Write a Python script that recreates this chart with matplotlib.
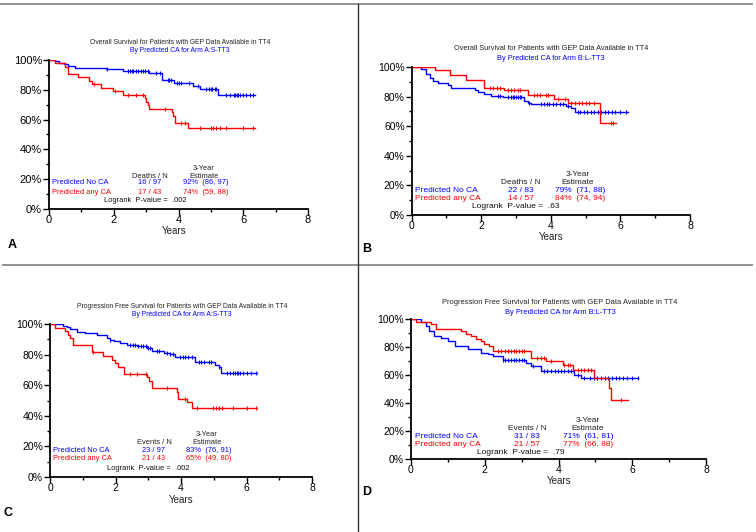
import numpy as np
import matplotlib
matplotlib.use('Agg')
import matplotlib.pyplot as plt
from matplotlib.lines import Line2D

plt.rcParams['font.family'] = ['Liberation Sans', 'DejaVu Sans']

W, H = 756, 532
BLUE = '#0000ff'
RED = '#ff0000'

# ---- panel A : overall survival, arm A
a_no_t = [0, 0.2, 0.3, 0.45, 0.6, 0.8, 1.75, 2.3, 3.1, 3.5, 3.85, 4.45, 4.65, 5.22, 6.35]
a_no_s = [100, 99, 98, 97, 96, 94.9, 93.8, 92.8, 91, 86.6, 84.6, 82.5, 80.7, 76.3, 76.3]
a_no_cens = [1.78, 2.45, 2.5, 2.55, 2.6, 2.7, 2.75, 2.85, 2.9, 2.95, 3.05, 3.32, 3.42, 3.68, 3.72,
             3.78, 3.94, 4.0, 4.09, 4.32, 4.6, 4.86, 4.95, 5.0, 5.05, 5.12, 5.17, 5.48, 5.6, 5.7,
             5.75, 5.8, 5.85, 5.9, 6.0, 6.1, 6.2, 6.3]
a_any_t = [0, 0.19, 0.49, 0.6, 0.9, 1.24, 1.32, 1.62, 1.98, 2.29, 2.96, 3.0, 3.05, 3.1, 3.81, 3.84,
           3.88, 4.3, 6.35]
a_any_s = [100, 97.7, 95.3, 90.7, 88.4, 86, 83.7, 81.4, 79, 76.7, 74.4, 72.1, 69.8, 67.4, 65, 62.5,
           58, 54.2, 54.2]
a_any_cens = [1.39, 2.04, 2.45, 2.7, 2.91, 3.58, 4.09, 4.2, 4.66, 4.99, 5.07, 5.17, 5.28, 5.48, 6.0, 6.3]

# ---- panel B : overall survival, arm B
b_no_t = [0, 0.28, 0.42, 0.52, 0.61, 0.76, 1.04, 1.14, 1.81, 1.9, 2.08, 2.29, 2.62, 3.24, 3.34,
          3.44, 4.44, 4.58, 4.68, 6.21]
b_no_s = [100, 98.8, 95.2, 92.8, 90.4, 89.2, 88, 85.5, 84.3, 83.1, 81.9, 80.7, 79.5, 77.1, 75.9,
          74.7, 73.5, 72.3, 69.9, 69.9]
b_no_cens = [2.48, 2.55, 2.76, 2.85, 2.9, 2.95, 3.0, 3.05, 3.1, 3.15, 3.38, 3.72, 3.8, 3.88, 3.95,
             4.05, 4.15, 4.25, 4.35, 4.5, 4.78, 4.85, 4.95, 5.05, 5.15, 5.25, 5.35, 5.45, 5.55,
             5.65, 5.75, 5.85, 6.0, 6.15]
b_any_t = [0, 0.66, 1.09, 1.57, 2.08, 2.65, 3.34, 4.08, 4.5, 5.4, 5.88]
b_any_s = [100, 98.2, 94.7, 91.2, 86, 84.5, 81.3, 78.5, 75.5, 62.3, 62.3]
b_any_cens = [2.24, 2.35, 2.45, 2.55, 2.76, 2.85, 2.95, 3.05, 3.1, 3.53, 3.6, 3.7, 3.85, 3.92,
              4.2, 4.4, 4.58, 4.7, 4.8, 4.9, 5.0, 5.1, 5.25, 5.73, 5.8]

# ---- panel C : progression free survival, arm A
c_no_t = [0, 0.41, 0.51, 0.61, 0.82, 1.07, 1.43, 1.73, 1.83, 1.94, 2.14, 2.34, 2.65, 2.96, 3.11,
          3.47, 3.67, 3.82, 4.43, 5.05, 5.15, 5.22, 6.32]
c_no_s = [100, 99, 98, 96.9, 94.8, 93.8, 92.8, 90.7, 89.7, 88.6, 87.6, 86.5, 85.5, 84.4, 82.3,
          81.3, 80.2, 78.2, 75, 73.3, 71.6, 68.3, 68.3]
c_no_cens = [1.83, 2.45, 2.52, 2.6, 2.7, 2.78, 2.85, 2.92, 3.0, 3.05, 3.26, 3.33, 3.57, 3.67, 3.75,
             3.97, 4.05, 4.12, 4.2, 4.33, 4.54, 4.62, 4.7, 4.85, 4.93, 5.15, 5.4, 5.5, 5.6, 5.65,
             5.7, 5.75, 5.8, 5.9, 6.0, 6.15, 6.3]
c_any_t = [0, 0.15, 0.46, 0.56, 0.61, 0.71, 1.27, 1.63, 1.89, 1.99, 2.09, 2.26, 2.96, 3.03, 3.11,
           3.87, 3.92, 4.18, 4.33, 6.32]
c_any_s = [100, 97.7, 95.3, 93, 90.7, 86, 81.4, 79.1, 76.7, 74.4, 72.1, 67.4, 65.1, 62.8, 58.1,
           55.8, 51.2, 48.8, 44.9, 44.9]
c_any_cens = [1.3, 2.45, 2.65, 2.93, 3.57, 4.13, 4.48, 4.99, 5.07, 5.15, 5.25, 5.6, 6.0, 6.3]

# ---- panel D : progression free survival, arm B
d_no_t = [0, 0.27, 0.41, 0.5, 0.63, 0.81, 0.99, 1.18, 1.54, 1.9, 2.08, 2.22, 2.49, 3.12, 3.25,
          3.53, 4.43, 4.6, 6.15]
d_no_s = [100, 97.6, 95.2, 91.6, 88, 86.7, 84.3, 80.7, 78.3, 75.9, 74.7, 73.5, 71, 68.6, 66.2,
          62.6, 60.2, 57.8, 57.8]
d_no_cens = [2.49, 2.55, 2.62, 2.7, 2.78, 2.85, 2.92, 3.0, 3.07, 3.3, 3.62, 3.7, 3.8, 3.9, 3.98,
             4.07, 4.15, 4.25, 4.34, 4.52, 4.7, 4.85, 4.95, 5.05, 5.15, 5.25, 5.35, 5.45, 5.55,
             5.65, 5.75, 5.85, 6.0, 6.15]
d_any_t = [0, 0.14, 0.54, 0.68, 1.36, 1.49, 1.63, 1.76, 1.9, 1.99, 2.12, 2.22, 3.25, 3.66, 4.11,
           4.39, 4.97, 5.38, 5.42, 5.88]
d_any_s = [100, 98.2, 96.5, 93, 91.2, 89.5, 87.7, 86, 84.2, 82.5, 80.7, 77.2, 72.5, 70, 67, 63.6,
           57.8, 51, 42.5, 42.5]
d_any_cens = [2.35, 2.45, 2.55, 2.62, 2.7, 2.78, 2.85, 2.92, 3.0, 3.07, 3.43, 3.53, 3.6, 3.8,
              4.16, 4.25, 4.3, 4.52, 4.6, 4.7, 4.8, 4.88, 5.7]

titles1 = ['Overall Survival for Patients with GEP Data Available in TT4',
           'Overall Survival for Patients with GEP Data Available in TT4',
           'Progression Free Survival for Patients with GEP Data Available in TT4',
           'Progression Free Survival for Patients with GEP Data Available in TT4']
titles2 = ['By Predicted CA for Arm A:S-TT3', 'By Predicted CA for Arm B:L-TT3',
           'By Predicted CA for Arm A:S-TT3', 'By Predicted CA for Arm B:L-TT3']
count_hdr = ['Deaths / N', 'Deaths / N', 'Events / N', 'Events / N']
n_no = ['16 / 97', '22 / 83', '23 / 97', '31 / 83']
n_any = ['17 / 43', '14 / 57', '21 / 43', '21 / 57']
est_no = ['92%  (86, 97)', '79%  (71, 88)', '83%  (76, 91)', '71%  (61, 81)']
est_any = ['74%  (59, 88)', '84%  (74, 94)', '65%  (49, 80)', '77%  (66, 88)']
pvals = ['.002', '.63', '.002', '.79']
letters = ['A', 'B', 'C', 'D']

curves = [(a_no_t, a_no_s, a_no_cens, a_any_t, a_any_s, a_any_cens),
          (b_no_t, b_no_s, b_no_cens, b_any_t, b_any_s, b_any_cens),
          (c_no_t, c_no_s, c_no_cens, c_any_t, c_any_s, c_any_cens),
          (d_no_t, d_no_s, d_no_cens, d_any_t, d_any_s, d_any_cens)]

# layout in pixels: axes (x0, x8, y100, y0), title centre/y, table anchors, letter
boxes = [(49, 308, 60, 209), (411.7, 690, 67, 215), (50, 312, 324, 477), (411, 706, 319, 459)]
title_pos = [(180, 42, 51), (551, 49, 58), (182, 306, 315), (560, 303, 312)]
# (label left, count centre, estimate left, estimate header centre, y 3-year, y header, y row1, y row2, y logrank, logrank left)
table_pos = [(52, 150, 183, 204, 168, 176, 183, 192, 201, 104),
             (415, 521, 555, 578, 174, 183, 191, 199, 207, 472),
             (53, 154, 186, 207, 435, 443, 451, 459, 468, 107),
             (415, 527, 563, 588, 420, 429, 436, 444, 452, 477)]
years_pos = [(174, 231), (551, 237), (181, 500), (559, 481)]
letter_pos = [(8, 245), (362, 249), (3, 513), (362, 492)]
tick_fs = [8, 7.5, 7.5, 7.5]
title_fs = [4.9, 5.3, 4.9, 5.4]
tab_fs = [5.4, 6.0, 5.4, 6.0]


def km_level(t, s, x):
    idx = np.searchsorted(np.asarray(t), x, side='right') - 1
    return np.asarray(s)[idx]


def ptext(x, y, s, **kw):
    fig.text(x / W, 1 - y / H, s, va='center', **kw)


fig = plt.figure(figsize=(W / 100, H / 100), dpi=100)

for i in range(4):
    x0, x8, ytop, ybot = boxes[i]
    ax = fig.add_axes([x0 / W, 1 - ybot / H, (x8 - x0) / W, (ybot - ytop) / H])
    no_t, no_s, no_c, any_t, any_s, any_c = curves[i]
    for t, s, c, col in [(no_t, no_s, no_c, BLUE), (any_t, any_s, any_c, RED)]:
        ax.step(t, s, where='post', color=col, lw=1.0)
        ax.plot(c, km_level(t, s, c), ls='none', marker='|', ms=3.5, mew=0.8, color=col)
    ax.set_xlim(0, 8)
    ax.set_ylim(0, 100)
    ax.spines['top'].set_visible(False)
    ax.spines['right'].set_visible(False)
    ax.spines['left'].set_linewidth(1.3)
    ax.spines['bottom'].set_linewidth(1.3)
    ax.set_xticks([0, 2, 4, 6, 8])
    ax.set_xticks([1, 3, 5, 7], minor=True)
    ax.set_yticks([0, 20, 40, 60, 80, 100])
    ax.set_yticks([10, 30, 50, 70, 90], minor=True)
    ax.set_yticklabels(['0%', '20%', '40%', '60%', '80%', '100%'])
    ax.tick_params(which='major', length=4, width=1.0, labelsize=tick_fs[i], pad=1)
    ax.tick_params(axis='x', which='major', pad=0)
    ax.tick_params(which='minor', length=2.5, width=1.0)
    ax.patch.set_alpha(0)

    tx, ty1, ty2 = title_pos[i]
    ptext(tx, ty1, titles1[i], ha='center', fontsize=title_fs[i], color='#222222')
    ptext(tx, ty2, titles2[i], ha='center', fontsize=title_fs[i], color=BLUE)

    lx, cx, ex, hx, y3, yh, yr1, yr2, ylr, lrx = table_pos[i]
    fs = tab_fs[i]
    ptext(hx, y3, '3-Year', ha='center', fontsize=fs, color='#222222')
    ptext(cx, yh, count_hdr[i], ha='center', fontsize=fs, color='#222222')
    ptext(hx, yh, 'Estimate', ha='center', fontsize=fs, color='#222222')
    ptext(lx, yr1, 'Predicted No CA', ha='left', fontsize=fs, color=BLUE)
    ptext(cx, yr1, n_no[i], ha='center', fontsize=fs, color=BLUE)
    ptext(ex, yr1, est_no[i], ha='left', fontsize=fs, color=BLUE)
    ptext(lx, yr2, 'Predicted any CA', ha='left', fontsize=fs, color=RED)
    ptext(cx, yr2, n_any[i], ha='center', fontsize=fs, color=RED)
    ptext(ex, yr2, est_any[i], ha='left', fontsize=fs, color=RED)
    ptext(lrx, ylr, 'Logrank  P-value =  ' + pvals[i], ha='left', fontsize=fs, color='#111111')

    ptext(years_pos[i][0], years_pos[i][1], 'Years', ha='center', fontsize=7, color='#222222')
    ptext(letter_pos[i][0], letter_pos[i][1], letters[i], ha='left', fontsize=9,
          fontweight='bold', color='black')

# frame / divider lines
fig.add_artist(Line2D([0, 752 / W], [1 - 4 / H, 1 - 4 / H], color='#888888', lw=1.3))
fig.add_artist(Line2D([3 / W, 752 / W], [1 - 265 / H, 1 - 265 / H], color='#888888', lw=1.3))
fig.add_artist(Line2D([358 / W, 358 / W], [0, 1 - 4 / H], color='#333333', lw=1.0))

fig.savefig('out.png', dpi=100)
